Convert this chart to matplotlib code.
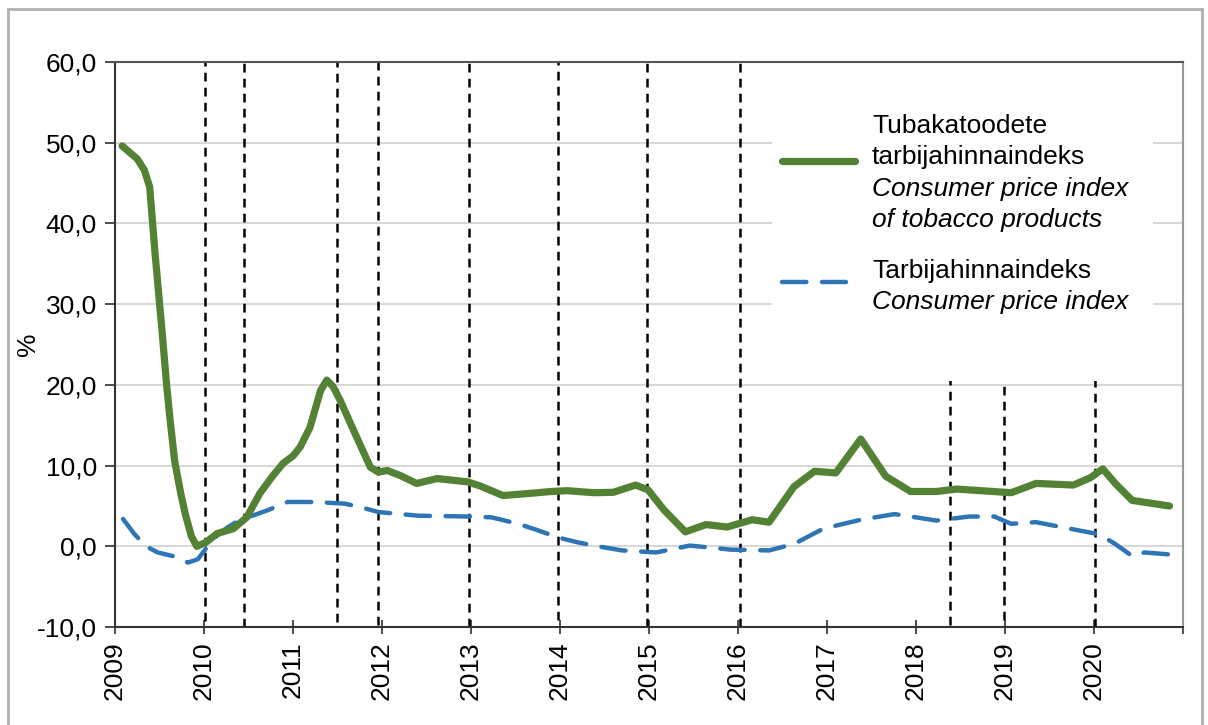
import matplotlib.pyplot as plt
from matplotlib.patches import Rectangle

plt.rcParams['font.family'] = ['Liberation Sans', 'DejaVu Sans']

# Tobacco CPI (yearly % change)
tob_x = [2009.08, 2009.25, 2009.33, 2009.39, 2009.45, 2009.53, 2009.58, 2009.62, 2009.67,
         2009.74, 2009.79, 2009.86, 2009.92, 2010.02, 2010.15, 2010.33, 2010.48, 2010.63,
         2010.77, 2010.89, 2011.0, 2011.08, 2011.19, 2011.31, 2011.38, 2011.45, 2011.53,
         2011.68, 2011.87, 2011.96, 2012.06, 2012.2, 2012.39, 2012.62, 2012.96, 2013.1,
         2013.36, 2013.7, 2013.9, 2014.08, 2014.38, 2014.6, 2014.85, 2014.99, 2015.17,
         2015.41, 2015.64, 2015.88, 2016.16, 2016.35, 2016.63, 2016.86, 2017.1, 2017.38,
         2017.66, 2017.94, 2018.23, 2018.46, 2019.07, 2019.35, 2019.77, 2019.96, 2020.1,
         2020.24, 2020.43, 2020.85]
tob_y = [49.6, 48.0, 46.6, 44.5, 36.3, 26.5, 20.0, 15.6, 10.6,
         6.5, 4.0, 1.2, 0.0, 0.5, 1.6, 2.2, 3.6, 6.6,
         8.7, 10.3, 11.2, 12.3, 14.7, 19.3, 20.6, 19.8, 18.1,
         14.4, 9.8, 9.2, 9.4, 8.8, 7.8, 8.4, 8.0, 7.5,
         6.3, 6.6, 6.8, 6.9, 6.65, 6.7, 7.6, 7.0, 4.5,
         1.8, 2.7, 2.4, 3.3, 3.0, 7.4, 9.3, 9.1, 13.3,
         8.7, 6.8, 6.8, 7.1, 6.65, 7.8, 7.6, 8.5, 9.6,
         7.8, 5.7, 5.0]

# Overall CPI
cpi_x = [2009.09, 2009.22, 2009.35, 2009.48, 2009.65, 2009.82, 2009.93, 2010.02, 2010.12,
         2010.27, 2010.42, 2010.57, 2010.72, 2010.94, 2011.24, 2011.58, 2011.78, 2011.96,
         2012.41, 2012.97, 2013.23, 2013.53, 2013.75, 2013.98, 2014.2, 2014.43, 2014.7,
         2015.08, 2015.46, 2015.92, 2016.35, 2016.63, 2016.96, 2017.38, 2017.76, 2018.0,
         2018.23, 2018.6, 2018.88, 2019.07, 2019.35, 2019.82, 2020.06, 2020.24, 2020.43,
         2020.57, 2020.85]
cpi_y = [3.4, 1.5, 0.0, -0.75, -1.2, -2.0, -1.6, -0.3, 1.1,
         2.4, 3.4, 3.9, 4.5, 5.5, 5.5, 5.3, 4.8, 4.25,
         3.8, 3.7, 3.6, 2.8, 2.0, 1.1, 0.5, 0.0, -0.5,
         -0.75, 0.1, -0.4, -0.5, 0.3, 2.2, 3.3, 4.0, 3.6,
         3.2, 3.7, 3.7, 2.8, 3.0, 2.0, 1.5, 0.3, -1.2,
         -0.75, -1.0]

# excise change markers
event_x = [2010.01, 2010.45, 2011.5, 2011.96, 2012.98, 2013.98, 2014.98, 2016.02,
           2018.38, 2018.99, 2020.01]
event_top = [60, 60, 60, 60, 60, 60, 60, 60, 23, 23, 22]
event_bottom = [-9.2, -10, -9.4, -9.7, -10, -9.1, -10, -10, -9.7, -9.1, -10]

years = list(range(2009, 2022))
year_labels = [str(y) for y in range(2009, 2021)] + ['']
y_ticks = list(range(-10, 61, 10))
y_labels = [('%.1f' % v).replace('.', ',') for v in y_ticks]

fs = 19

fig = plt.figure(figsize=(12.08, 7.25), dpi=100)
ax = fig.add_axes([0.0952, 0.135, 0.884, 0.7795])

ax.set_xlim(2009, 2021)
ax.set_ylim(-10, 60)
ax.set_yticks(y_ticks)
ax.set_yticklabels(y_labels, fontsize=fs)
ax.set_xticks(years)
ax.set_xticklabels(year_labels, rotation=90, fontsize=fs)
ax.grid(axis='y', color='#d4d4d4', lw=1.3)
ax.set_axisbelow(True)
ax.tick_params(axis='y', direction='out', length=7, width=1.3, color='#404040', pad=6)
ax.tick_params(axis='x', direction='inout', length=10, width=1.3, color='#404040', pad=5)
ax.set_ylabel('%', fontsize=fs)
ax.yaxis.set_label_coords(-0.07, 0.5)

for side in ['left', 'bottom']:
    ax.spines[side].set_color('#333333')
    ax.spines[side].set_linewidth(1.5)
ax.spines['top'].set_color('#555555')
ax.spines['top'].set_linewidth(1.5)
ax.spines['right'].set_color('#999999')
ax.spines['right'].set_linewidth(1.5)

ax.vlines(event_x, event_bottom, event_top, colors='black', lw=1.8,
          linestyles=(0, (3.5, 2.5)), zorder=2)

ax.plot(cpi_x, cpi_y, color='#2e75b6', lw=3.2, linestyle=(0, (5.5, 3.5)),
        dash_capstyle='round', zorder=3)
ax.plot(tob_x, tob_y, color='#548235', lw=5.2, solid_capstyle='round',
        solid_joinstyle='round', zorder=4)

# legend drawn by hand on a white box
ax.add_patch(Rectangle((0.615, 0.435), 0.357, 0.475, transform=ax.transAxes,
                       facecolor='white', edgecolor='none', zorder=5))
ax.plot([0.625, 0.693], [0.825, 0.825], transform=ax.transAxes, color='#548235',
        lw=5.2, solid_capstyle='round', zorder=6)
ax.plot([0.625, 0.685], [0.61, 0.61], transform=ax.transAxes,
        color='#2e75b6', lw=3.2, linestyle=(0, (5.5, 3.5)), dash_capstyle='round', zorder=6)
tx = 0.709
ax.text(tx, 0.887, 'Tubakatoodete', transform=ax.transAxes, fontsize=fs, va='center', zorder=7)
ax.text(tx, 0.831, 'tarbijahinnaindeks', transform=ax.transAxes, fontsize=fs, va='center', zorder=7)
ax.text(tx, 0.775, 'Consumer price index', transform=ax.transAxes, fontsize=fs,
        style='italic', va='center', zorder=7)
ax.text(tx, 0.721, 'of tobacco products', transform=ax.transAxes, fontsize=fs,
        style='italic', va='center', zorder=7)
ax.text(tx, 0.631, 'Tarbijahinnaindeks', transform=ax.transAxes, fontsize=fs, va='center', zorder=7)
ax.text(tx, 0.576, 'Consumer price index', transform=ax.transAxes, fontsize=fs,
        style='italic', va='center', zorder=7)

fig.add_artist(Rectangle((8 / 1208, -0.01), 1194 / 1208, 1 - 9 / 725 + 0.01,
                         transform=fig.transFigure, fill=False, edgecolor='#b0b0b0', lw=2))

fig.savefig('out.png', dpi=100)
